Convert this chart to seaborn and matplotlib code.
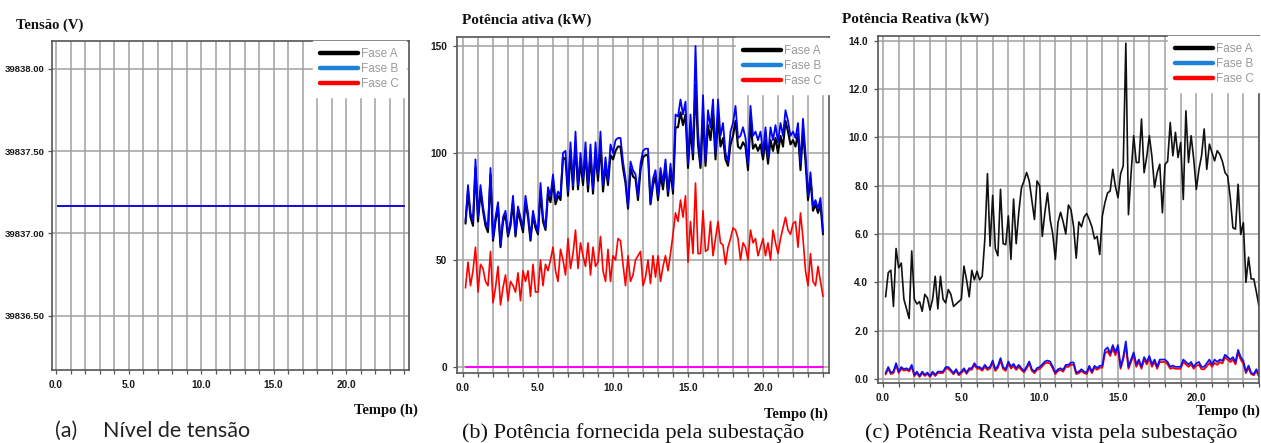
import numpy as np
import pandas as pd
import matplotlib
matplotlib.use("Agg")
import matplotlib.pyplot as plt
from matplotlib.lines import Line2D
from matplotlib.ticker import FixedLocator, FormatStrFormatter, MultipleLocator
import seaborn as sns

# ---------------- data ----------------
tempo_h = np.arange(1, 145) / 6.0  # 10-minute samples, 0.17 h .. 24 h

# (a) voltage level (all three phases overlap)
tensao_fase_a = 39837.17
tensao_fase_b = 39837.17
tensao_fase_c = 39837.17

# (b) active power (kW), 6 samples per hour
p_fase_a = [
    67, 82, 70, 66, 93, 68,
    82, 73, 66, 63, 90, 59,
    68, 75, 56, 68, 71, 61,
    66, 77, 61, 73, 68, 63,
    77, 70, 59, 71, 65, 62,
    82, 68, 64, 81, 77, 87,
    76, 80, 78, 98, 97, 80,
    101, 83, 104, 83, 96, 85,
    100, 82, 99, 81, 100, 87,
    104, 82, 94, 85, 99, 97,
    101, 103, 103, 93, 86, 74,
    93, 89, 88, 78, 92, 98,
    99, 99, 76, 85, 89, 78,
    90, 83, 94, 80, 92, 81,
    112, 112, 119, 113, 118, 93,
    112, 97, 132, 104, 93, 118,
    94, 113, 106, 118, 97, 117,
    103, 107, 97, 94, 104, 108,
    115, 103, 102, 105, 103, 92,
    115, 102, 104, 101, 104, 97,
    106, 95, 106, 101, 107, 100,
    108, 103, 115, 110, 104, 106,
    103, 109, 92, 110, 96, 78,
    88, 73, 76, 72, 76, 62,
]
p_fase_b = [
    68, 85, 72, 68, 97, 70,
    85, 75, 68, 65, 93, 60,
    70, 77, 57, 70, 73, 62,
    68, 80, 62, 75, 70, 65,
    80, 72, 60, 73, 67, 63,
    86, 70, 65, 84, 80, 90,
    78, 82, 80, 100, 101, 82,
    105, 85, 110, 85, 100, 88,
    105, 85, 104, 83, 105, 90,
    110, 85, 98, 87, 104, 100,
    106, 107, 107, 96, 88, 75,
    96, 92, 90, 80, 95, 101,
    102, 102, 77, 88, 92, 80,
    93, 86, 97, 82, 95, 83,
    118, 117, 125, 118, 124, 95,
    118, 100, 150, 110, 95, 127,
    96, 120, 112, 125, 100, 125,
    108, 114, 100, 96, 110, 114,
    122, 107, 108, 112, 107, 95,
    122, 108, 110, 106, 110, 100,
    112, 98, 112, 106, 113, 105,
    114, 108, 120, 115, 108, 110,
    107, 114, 95, 116, 100, 80,
    91, 75, 78, 74, 79, 63,
]
p_fase_c = [
    37, 49, 38, 45, 56, 35,
    48, 46, 40, 38, 54, 30,
    37, 47, 29, 37, 43, 31,
    40, 38, 35, 44, 31, 45,
    40, 45, 33, 48, 35, 35,
    50, 38, 48, 45, 50, 56,
    45, 40, 55, 50, 43, 60,
    46, 53, 64, 46, 58, 52,
    47, 58, 43, 56, 47, 49,
    61, 45, 40, 55, 40, 52,
    50, 60, 59, 48, 38, 52,
    40, 43, 50, 52, 54, 38,
    42, 50, 39, 52, 42, 52,
    40, 47, 52, 45, 53, 62,
    72, 68, 78, 70, 80, 49,
    68, 53, 86, 53, 53, 73,
    54, 55, 68, 52, 60, 68,
    58, 57, 48, 56, 60, 65,
    64, 60, 50, 58, 56, 50,
    64, 58, 60, 52, 56, 60,
    52, 58, 50, 64, 58, 53,
    60, 65, 70, 64, 62, 67,
    68, 56, 72, 60, 45, 38,
    53, 40, 38, 47, 40, 33,
]
p_neutro = [0.0] * 144

# (c) reactive power (kW), 6 samples per hour
q_fase_a = [
    3.4, 4.4, 4.5, 3.0, 5.4, 4.6,
    4.8, 3.3, 2.9, 2.5, 5.3, 3.3,
    3.1, 3.2, 2.8, 3.5, 3.35, 2.85,
    3.3, 4.25, 2.9, 4.25, 3.3, 3.15,
    3.7, 3.5, 3.0, 3.1, 3.2, 3.3,
    4.67, 4.1, 3.4, 4.5, 4.1, 4.46,
    4.1, 4.25, 5.8, 8.5, 5.5, 7.6,
    5.4, 5.1, 7.85, 5.6, 5.56, 6.75,
    4.95, 7.45, 5.6, 6.9, 7.9, 8.2,
    8.55, 8.2, 7.4, 6.6, 8.2, 8.0,
    5.9, 6.9, 7.7, 6.6, 6.0, 4.95,
    6.47, 6.9, 6.5, 6.0, 7.2, 7.0,
    6.3, 5.0, 6.5, 6.3, 6.7, 6.85,
    6.6, 6.3, 5.8, 5.9, 5.15, 6.75,
    7.3, 7.7, 7.78, 8.68, 7.97, 7.5,
    8.5, 8.82, 13.9, 6.8, 8.5, 10.07,
    8.96, 8.96, 10.76, 8.54, 9.2, 10.07,
    9.2, 7.93, 8.54, 8.89, 6.88, 8.89,
    9.0, 10.62, 9.24, 10.21, 9.17, 9.79,
    7.43, 11.1, 8.96, 10.07, 9.1, 7.85,
    8.68, 9.24, 10.35, 8.68, 9.72, 9.38,
    9.03, 9.45, 9.3, 9.0, 8.54, 8.4,
    7.5, 6.26, 6.2, 8.06, 5.98, 6.47,
    4.0, 5.04, 4.14, 4.14, 3.6, 3.0,
]
q_fase_b = [
    0.24, 0.49, 0.26, 0.30, 0.65, 0.30,
    0.49, 0.40, 0.44, 0.37, 0.58, 0.17,
    0.30, 0.12, 0.30, 0.17, 0.26, 0.12,
    0.30, 0.17, 0.30, 0.30, 0.30, 0.49,
    0.49, 0.37, 0.24, 0.40, 0.20, 0.30,
    0.44, 0.26, 0.44, 0.44, 0.65, 0.49,
    0.49, 0.40, 0.58, 0.44, 0.50, 0.76,
    0.40, 0.54, 0.86, 0.49, 0.40, 0.72,
    0.51, 0.62, 0.44, 0.58, 0.44, 0.33,
    0.51, 0.72, 0.40, 0.30, 0.45, 0.49,
    0.60, 0.72, 0.76, 0.72, 0.51, 0.26,
    0.40, 0.44, 0.37, 0.58, 0.58, 0.68,
    0.68, 0.26, 0.30, 0.40, 0.30, 0.26,
    0.54, 0.30, 0.54, 0.45, 0.54, 0.55,
    1.20, 1.30, 1.05, 1.40, 1.10, 1.40,
    0.50, 0.90, 1.55, 0.50, 0.80, 1.10,
    0.60, 0.80, 0.50, 0.90, 0.70, 0.95,
    0.60, 0.80, 0.50, 0.80, 0.80, 0.80,
    0.70, 0.50, 0.55, 0.50, 0.50, 0.50,
    0.80, 0.70, 0.60, 0.70, 0.50, 0.65,
    0.70, 0.50, 0.50, 0.65, 0.80, 0.60,
    0.80, 0.70, 0.80, 0.75, 1.00, 0.90,
    0.80, 0.90, 0.70, 1.20, 0.90, 0.75,
    0.30, 0.55, 0.25, 0.20, 0.40, 0.15,
]
q_fase_c = [
    0.18, 0.42, 0.20, 0.24, 0.57, 0.24,
    0.42, 0.34, 0.38, 0.31, 0.50, 0.12,
    0.24, 0.08, 0.24, 0.12, 0.21, 0.08,
    0.24, 0.12, 0.25, 0.24, 0.25, 0.42,
    0.42, 0.31, 0.19, 0.34, 0.15, 0.24,
    0.37, 0.21, 0.37, 0.38, 0.57, 0.42,
    0.42, 0.34, 0.50, 0.37, 0.43, 0.67,
    0.33, 0.46, 0.76, 0.41, 0.33, 0.63,
    0.43, 0.53, 0.37, 0.50, 0.37, 0.27,
    0.43, 0.63, 0.33, 0.24, 0.38, 0.41,
    0.52, 0.64, 0.67, 0.63, 0.43, 0.20,
    0.33, 0.37, 0.30, 0.50, 0.50, 0.58,
    0.59, 0.20, 0.24, 0.33, 0.24, 0.20,
    0.46, 0.24, 0.46, 0.38, 0.46, 0.47,
    1.05, 1.15, 0.95, 1.25, 0.98, 1.25,
    0.42, 0.80, 1.40, 0.42, 0.70, 0.98,
    0.50, 0.70, 0.42, 0.80, 0.60, 0.85,
    0.50, 0.70, 0.42, 0.70, 0.70, 0.70,
    0.60, 0.42, 0.46, 0.42, 0.42, 0.42,
    0.70, 0.60, 0.50, 0.60, 0.42, 0.55,
    0.58, 0.40, 0.40, 0.52, 0.66, 0.50,
    0.66, 0.58, 0.70, 0.64, 0.90, 0.80,
    0.70, 0.80, 0.60, 1.08, 0.80, 0.62,
    0.24, 0.46, 0.20, 0.15, 0.32, 0.10,
]

fases = ["Fase A", "Fase B", "Fase C"]
legend_colors = ["#000000", "#1f80d8", "#ff0000"]

# ---------------- style ----------------
sns.set_style("white")
plt.rcParams["font.family"] = ["Liberation Sans", "DejaVu Sans"]

W, H = 1261, 443
fig = plt.figure(figsize=(W / 100, H / 100), dpi=100)


def px_axes(l, t, r, b):
    return fig.add_axes([l / W, 1 - b / H, (r - l) / W, (b - t) / H])


def style_axes(ax, xlim, ylim, yticks, yfmt, ysize=7.3, ypad=4):
    ax.set_xlim(*xlim)
    ax.set_ylim(*ylim)
    ax.xaxis.set_major_locator(FixedLocator([0, 5, 10, 15, 20]))
    ax.xaxis.set_minor_locator(MultipleLocator(1))
    ax.xaxis.set_major_formatter(FormatStrFormatter("%.1f"))
    ax.yaxis.set_major_locator(FixedLocator(yticks))
    ax.yaxis.set_major_formatter(FormatStrFormatter(yfmt))
    ax.grid(True, which="major", axis="y", color="#a0a0a0", lw=1.1)
    ax.grid(True, which="minor", axis="x", color="#a0a0a0", lw=1.1)
    ax.grid(True, which="major", axis="x", color="#a0a0a0", lw=1.1)
    ax.set_axisbelow(True)
    ax.tick_params(axis="both", which="both", direction="out", color="#555555",
                   labelsize=7.3, labelcolor="#1a1a1a", length=3, width=0.9, pad=4,
                   bottom=True, left=True)
    ax.tick_params(axis="y", labelsize=ysize, pad=ypad)
    for lab in ax.get_xticklabels() + ax.get_yticklabels():
        lab.set_fontweight("bold")
    for s in ax.spines.values():
        s.set_color("#555555")
        s.set_linewidth(1.2)
    ax.set_xlabel("")
    ax.set_ylabel("")


def add_legend(ax, anchor):
    handles = [Line2D([], [], color=c, lw=3.2) for c in legend_colors]
    leg = ax.legend(handles, fases, loc="upper right", bbox_to_anchor=anchor,
                    bbox_transform=fig.transFigure, fontsize=8.5,
                    labelcolor="#9a9a9a", frameon=True, fancybox=False,
                    framealpha=1.0, facecolor="white", edgecolor="white",
                    handlelength=3.2, handletextpad=0.25, labelspacing=0.25,
                    borderpad=0.6, borderaxespad=0)
    leg.set_zorder(10)


serif_bold = dict(family="Liberation Serif", fontweight="bold", color="#111111")

# ---------------- (a) ----------------
ax_a = px_axes(52, 41, 409, 370)
sns.lineplot(x=tempo_h, y=[tensao_fase_a] * len(tempo_h), ax=ax_a, color="black", lw=1.4)
sns.lineplot(x=tempo_h, y=[tensao_fase_c] * len(tempo_h), ax=ax_a, color="red", lw=1.4)
sns.lineplot(x=tempo_h, y=[tensao_fase_b] * len(tempo_h), ax=ax_a, color="#1010e0", lw=1.4)
style_axes(ax_a, (-0.28, 24.34), (39836.17, 39838.17),
           [39836.5, 39837.0, 39837.5, 39838.0], "%.2f", ysize=6.8, ypad=2.5)
add_legend(ax_a, (406 / W, 1 - 41 / H))

# ---------------- (b) ----------------
ax_b = px_axes(457, 37, 829, 373)
sns.lineplot(x=tempo_h, y=p_neutro, ax=ax_b, color="#ff00ff", lw=1.5)
sns.lineplot(x=tempo_h, y=p_fase_a, ax=ax_b, color="black", lw=1.5)
sns.lineplot(x=tempo_h, y=p_fase_c, ax=ax_b, color="red", lw=1.2)
sns.lineplot(x=tempo_h, y=p_fase_b, ax=ax_b, color="#0000ff", lw=1.3)
style_axes(ax_b, (-0.4, 24.4), (-2.8, 154.2), [0, 50, 100, 150], "%d")
add_legend(ax_b, (829 / W, 1 - 38 / H))

# ---------------- (c) ----------------
ax_c = px_axes(878, 36, 1259, 383)
sns.lineplot(x=tempo_h, y=q_fase_a, ax=ax_c, color="#111111", lw=1.2)
sns.lineplot(x=tempo_h, y=q_fase_c, ax=ax_c, color="red", lw=1.3)
sns.lineplot(x=tempo_h, y=q_fase_b, ax=ax_c, color="#1010f0", lw=1.3)
style_axes(ax_c, (-0.32, 24.0), (-0.17, 14.2), list(range(0, 15, 2)), "%.1f")
add_legend(ax_c, (1261 / W, 1 - 36 / H))

# ---------------- texts ----------------
def ftext(x, y, s, **kw):
    fig.text(x / W, 1 - y / H, s, **kw)


ftext(16, 29, "Tensão (V)", fontsize=10.5, ha="left", va="baseline", **serif_bold)
ftext(462, 24, "Potência ativa (kW)", fontsize=11, ha="left", va="baseline", **serif_bold)
ftext(842, 23, "Potência Reativa (kW)", fontsize=11, ha="left", va="baseline", **serif_bold)

ftext(418, 414, "Tempo (h)", fontsize=10.5, ha="right", va="baseline", **serif_bold)
ftext(828, 418, "Tempo (h)", fontsize=10.5, ha="right", va="baseline", **serif_bold)
ftext(1260, 415, "Tempo (h)", fontsize=10.5, ha="right", va="baseline", **serif_bold)

ftext(55, 437, "(a)", fontsize=15.5, ha="left", va="baseline", family="Lato", color="#222222")
ftext(103, 437, "Nível de tensão", fontsize=15.5, ha="left", va="baseline", family="Lato", color="#222222")
ftext(462, 438, "(b) Potência fornecida pela subestação", fontsize=16, ha="left",
      va="baseline", family="Liberation Serif", color="#111111")
ftext(865, 438, "(c) Potência Reativa vista pela subestação", fontsize=16, ha="left",
      va="baseline", family="Liberation Serif", color="#111111")

fig.savefig("out.png", dpi=100)
